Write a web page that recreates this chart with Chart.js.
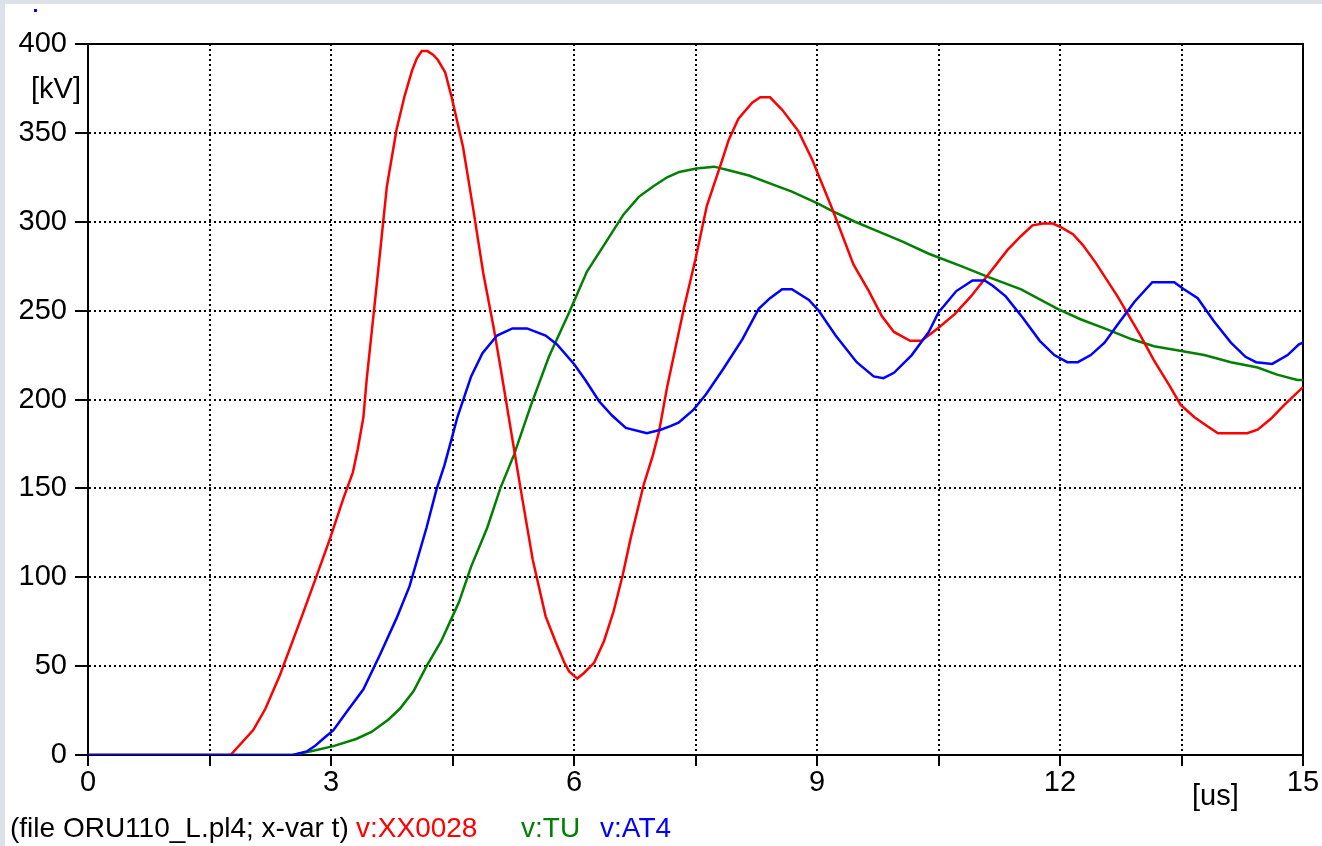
<!DOCTYPE html>
<html>
<head>
<meta charset="utf-8">
<script src="https://cdn.jsdelivr.net/npm/chart.js@4.4.1/dist/chart.umd.min.js"></script>
<style>
  html, body { margin: 0; padding: 0; }
  body { width: 1322px; height: 846px; background: #dde1ea; position: relative; overflow: hidden;
         font-family: 'Liberation Sans', Arial, sans-serif; }
  #panel { position: absolute; left: 5px; top: 4px; width: 1317px; height: 842px; background: #fff; }
  #chart { position: absolute; left: 0; top: 0; }
  .lbl { position: absolute; line-height: 1; white-space: nowrap; }
</style>
</head>
<body>
<div id="panel">
  <canvas id="chart" width="1317" height="842"></canvas>
</div>
<div class="lbl" style="left:34px; top:9px; width:3px; height:3px; background:#0000ff;"></div>
<div class="lbl" style="left:31px; top:74px; font-size:29px;">[kV]</div>
<div class="lbl" style="left:1192px; top:781px; font-size:29px;">[us]</div>
<div class="lbl" style="left:10px; top:814px; font-size:28px; color:#000;">(file ORU110_L.pl4; x-var t)</div>
<div class="lbl" style="left:356px; top:814px; font-size:28px; color:#ff0000;">v:XX0028</div>
<div class="lbl" style="left:521px; top:814px; font-size:28px; color:#008000;">v:TU</div>
<div class="lbl" style="left:600px; top:814px; font-size:28px; color:#0000ff;">v:AT4</div>

<script>
// time axis in us, voltage in kV
const xTicks = [0, 3, 6, 9, 12, 15];

const tRed = [0, 1.76, 2.04, 2.19, 2.37, 2.64, 2.80, 2.99, 3.15, 3.27, 3.33, 3.40, 3.44, 3.57, 3.69, 3.81, 3.91, 4.00, 4.06, 4.12, 4.19, 4.26, 4.32, 4.41, 4.49, 4.63, 4.76, 4.88, 5.01, 5.10, 5.26, 5.34, 5.49, 5.65, 5.77, 5.88, 5.94, 6.04, 6.12, 6.25, 6.37, 6.49, 6.60, 6.70, 6.86, 6.97, 7.05, 7.15, 7.36, 7.50, 7.64, 7.81, 7.91, 8.03, 8.20, 8.30, 8.42, 8.57, 8.77, 8.94, 9.19, 9.45, 9.64, 9.80, 9.95, 10.15, 10.29, 10.49, 10.70, 10.90, 11.11, 11.35, 11.52, 11.66, 11.79, 11.91, 12.01, 12.16, 12.28, 12.44, 12.71, 12.98, 13.16, 13.35, 13.49, 13.66, 13.82, 13.95, 14.31, 14.44, 14.60, 14.77, 15.00];
const vRed = [0, 0, 14, 26, 45, 78, 98, 122, 144, 159, 172, 190, 211, 267, 320, 352, 371, 385, 392, 396, 396, 394, 391, 384, 370, 342, 306, 271, 240, 216, 172, 150, 110, 78, 64, 52, 47, 43, 46, 52, 64, 81, 101, 122, 152, 168, 182, 207, 252, 279, 309, 332, 346, 358, 367, 370, 370, 363, 351, 335, 307, 276, 261, 247, 238, 233, 233, 240, 248, 258, 270, 284, 292, 298, 299, 299, 297, 293, 287, 277, 258, 237, 222, 208, 197, 190, 185, 181, 181, 183, 189, 197, 207];

const tGreen = [0, 2.53, 2.74, 3.03, 3.31, 3.50, 3.71, 3.85, 4.02, 4.18, 4.36, 4.49, 4.58, 4.73, 4.93, 5.09, 5.26, 5.47, 5.69, 5.94, 6.16, 6.40, 6.61, 6.80, 6.98, 7.15, 7.30, 7.51, 7.73, 7.91, 8.16, 8.45, 8.69, 9.02, 9.19, 9.47, 9.68, 10.05, 10.38, 10.78, 11.11, 11.52, 11.97, 12.26, 12.55, 12.88, 13.16, 13.41, 13.78, 14.11, 14.44, 14.68, 14.93, 15.00];
const vGreen = [0, 0, 2, 5, 9, 13, 20, 26, 36, 50, 64, 77, 86, 106, 128, 150, 169, 197, 224, 249, 272, 289, 304, 314, 320, 325, 328, 330, 331, 329, 326, 321, 317, 310, 306, 300, 296, 289, 282, 275, 269, 262, 251, 245, 240, 234, 230, 228, 225, 221, 218, 214, 211, 211];

const tBlue = [0, 2.53, 2.70, 2.80, 2.90, 3.03, 3.19, 3.40, 3.60, 3.81, 3.97, 4.18, 4.30, 4.40, 4.49, 4.56, 4.73, 4.87, 5.05, 5.24, 5.42, 5.65, 5.79, 6.00, 6.14, 6.31, 6.47, 6.64, 6.90, 7.07, 7.19, 7.29, 7.47, 7.63, 7.84, 8.08, 8.28, 8.42, 8.57, 8.69, 8.90, 9.02, 9.23, 9.49, 9.70, 9.82, 9.95, 10.17, 10.38, 10.50, 10.72, 10.92, 11.07, 11.17, 11.33, 11.54, 11.75, 11.93, 12.09, 12.22, 12.38, 12.55, 12.71, 12.92, 13.14, 13.41, 13.53, 13.70, 13.90, 14.11, 14.29, 14.42, 14.62, 14.81, 14.95, 15.00];
const vBlue = [0, 0, 2, 5, 9, 14, 24, 37, 56, 77, 95, 128, 149, 163, 178, 190, 213, 226, 236, 240, 240, 236, 231, 220, 211, 199, 191, 184, 181, 183, 185, 187, 194, 203, 217, 234, 251, 257, 262, 262, 256, 250, 236, 221, 213, 212, 215, 225, 238, 249, 261, 267, 267, 264, 258, 246, 233, 225, 221, 221, 225, 232, 242, 255, 266, 266, 262, 257, 244, 232, 224, 221, 220, 225, 231, 232];

function toPoints(ts, vs) {
    return ts.map((t, i) => ({ x: t, y: vs[i] }));
}

const font = { family: "'Liberation Sans', Arial, sans-serif", size: 29 };

// solid box round the plot area, like the ATP plot frame
const framePlugin = {
    id: 'frame',
    beforeDatasetsDraw(chart) {
        const a = chart.chartArea;
        const ctx = chart.ctx;
        ctx.save();
        ctx.strokeStyle = '#000';
        ctx.lineWidth = 2;
        ctx.strokeRect(a.left, a.top, a.right - a.left, a.bottom - a.top);
        ctx.restore();
    }
};

function series(label, ts, vs, color, order) {
    return {
        label: label,
        data: toPoints(ts, vs),
        borderColor: color,
        backgroundColor: color,
        borderWidth: 2.5,
        pointRadius: 0,
        tension: 0,
        fill: false,
        order: order
    };
}

const ctx = document.getElementById('chart').getContext('2d');
const myChart = new Chart(ctx, {
    type: 'line',
    data: {
        datasets: [
            series('v:XX0028', tRed, vRed, '#ff0000', 1),
            series('v:TU', tGreen, vGreen, '#008000', 2),
            series('v:AT4', tBlue, vBlue, '#0000ff', 0)
        ]
    },
    options: {
        responsive: false,
        animation: false,
        layout: { padding: { left: 0, right: 19, top: 40, bottom: 0 } },
        plugins: { legend: { display: false }, tooltip: { enabled: false } },
        scales: {
            x: {
                type: 'linear',
                min: 0,
                max: 15,
                afterFit: s => { s.height = 91; },
                afterBuildTicks: s => {
                    s.ticks = [];
                    for (let v = 0; v <= 15; v += 1.5) s.ticks.push({ value: v });
                },
                ticks: {
                    color: '#000',
                    font: font,
                    padding: 0,
                    maxRotation: 0,
                    autoSkip: false,
                    callback: v => (xTicks.includes(v) ? String(v) : '')
                },
                grid: {
                    color: '#000',
                    lineWidth: 2,
                    tickLength: 11,
                    tickColor: '#000',
                    tickWidth: 2
                },
                border: { color: '#000', width: 2, dash: [2, 3] }
            },
            y: {
                min: 0,
                max: 400,
                afterFit: s => { s.width = 83; },
                ticks: {
                    stepSize: 50,
                    color: '#000',
                    font: font,
                    padding: 8
                },
                grid: {
                    color: '#000',
                    lineWidth: 2,
                    tickLength: 13,
                    tickColor: '#000',
                    tickWidth: 2
                },
                border: { color: '#000', width: 2, dash: [2, 3] }
            }
        }
    },
    plugins: [framePlugin]
});
</script>
</body>
</html>
